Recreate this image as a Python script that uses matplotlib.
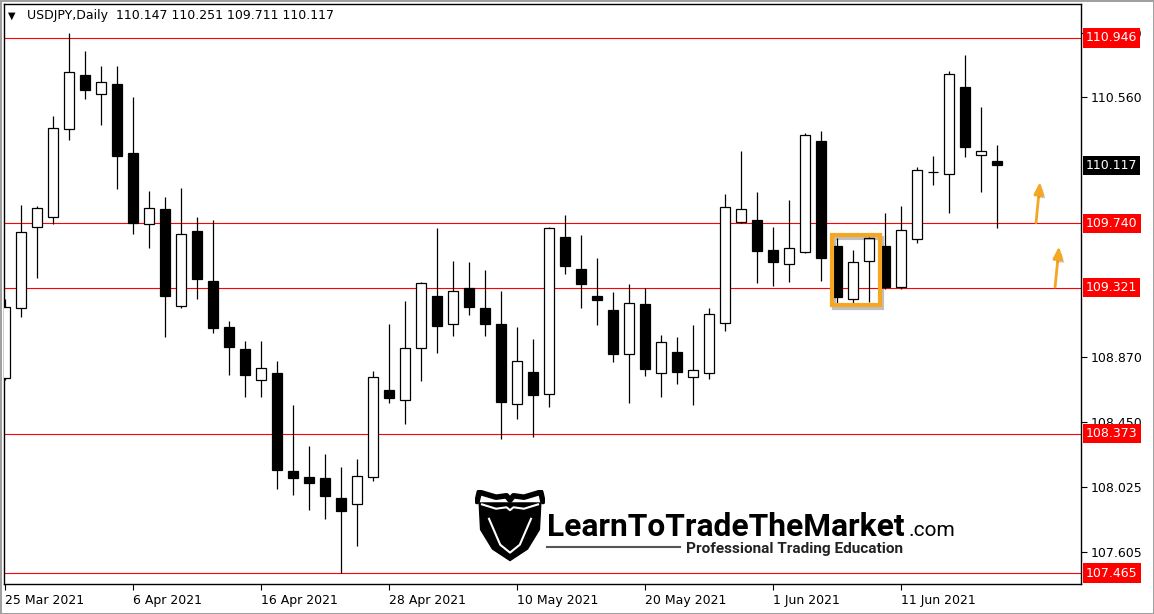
import matplotlib
matplotlib.use('Agg')
import matplotlib.pyplot as plt
import matplotlib.patheffects as pe
from matplotlib.patches import Rectangle, Polygon
import matplotlib.transforms as mtrans
import pandas as pd

# daily USDJPY bars
dates = pd.bdate_range('2021-03-25', periods=63)
opens = [108.734, 109.189, 109.716, 109.781, 110.354, 110.705, 110.581, 110.647, 110.198, 109.736,
         109.833, 109.202, 109.690, 109.365, 109.066, 108.922, 108.721, 108.766, 108.129, 108.090,
         108.083, 107.953, 107.914, 108.090, 108.656, 108.591, 108.929, 109.267, 109.085, 109.319,
         109.189, 109.085, 108.565, 108.773, 108.630, 109.651, 109.443, 109.267, 109.176, 108.890,
         109.215, 108.766, 108.903, 108.740, 108.766, 109.092, 109.749, 109.762, 109.567, 109.475,
         109.554, 110.276, 109.593, 109.248, 109.495, 109.593, 109.326, 109.638, 110.071, 110.061,
         110.627, 110.185, 110.147]
highs = [109.248, 109.859, 109.853, 110.438, 110.978, 110.861, 110.764, 110.764, 110.562, 109.950,
         109.911, 109.970, 109.781, 109.762, 109.105, 108.975, 108.975, 108.844, 108.558, 108.291,
         108.239, 108.155, 108.207, 108.779, 109.085, 109.235, 109.358, 109.710, 109.495, 109.488,
         109.436, 109.300, 109.066, 108.988, 109.716, 109.794, 109.664, 109.515, 109.293, 109.345,
         109.319, 109.014, 109.001, 109.079, 109.189, 109.931, 110.211, 109.944, 109.716, 109.892,
         110.328, 110.341, 109.645, 109.567, 109.651, 109.807, 109.853, 110.107, 110.178, 110.731,
         110.835, 110.497, 110.251]
lows = [108.721, 109.131, 109.384, 109.736, 110.282, 110.549, 110.380, 109.963, 109.671, 109.580,
        109.001, 109.189, 109.248, 109.027, 108.753, 108.610, 108.610, 108.012, 107.973, 107.875,
        107.816, 107.465, 107.641, 108.064, 108.571, 108.435, 108.714, 108.896, 109.007, 109.144,
        109.007, 108.337, 108.467, 108.350, 108.545, 109.410, 109.189, 109.079, 108.838, 108.571,
        108.747, 108.610, 108.695, 108.558, 108.727, 109.040, 109.742, 109.352, 109.332, 109.358,
        109.547, 109.365, 109.222, 109.222, 109.228, 109.313, 109.313, 109.612, 109.989, 109.807,
        110.172, 109.944, 109.711]
closes = [109.196, 109.684, 109.840, 110.360, 110.725, 110.608, 110.660, 110.178, 109.742, 109.840,
          109.267, 109.671, 109.378, 109.059, 108.935, 108.753, 108.799, 108.135, 108.083, 108.051,
          107.966, 107.868, 108.096, 108.740, 108.604, 108.929, 109.352, 109.072, 109.300, 109.196,
          109.085, 108.578, 108.844, 108.623, 109.710, 109.462, 109.345, 109.241, 108.890, 109.222,
          108.792, 108.968, 108.773, 108.786, 109.150, 109.846, 109.833, 109.560, 109.488, 109.580,
          110.315, 109.515, 109.261, 109.488, 109.645, 109.326, 109.697, 110.087, 110.074, 110.712,
          110.237, 110.211, 110.117]

levels = [110.946, 109.740, 109.321, 108.373, 107.465]
price_ticks = [110.980, 110.560, 108.870, 108.450, 108.025, 107.605]
box_bars = [52, 53, 54]          # highlighted pattern
arrow_levels = [109.740, 109.321]

ORANGE = '#F5A623'

fig = plt.figure(figsize=(11.54, 6.14), dpi=100)
fig.patch.set_facecolor('white')
fig.patch.set_edgecolor('#a0a0a0')
fig.patch.set_linewidth(2)

W, H = 1154, 614
ax = fig.add_axes([4 / W, 1 - 584 / H, 1077 / W, 580 / H])
ax.set_xlim(-0.0625, 67.25)
ax.set_ylim(107.394, 111.167)

# candles
idx = list(range(len(opens)))
ax.vlines(idx, lows, highs, color='black', linewidth=0.9, zorder=2)
bottoms = [min(o, c) for o, c in zip(opens, closes)]
heights = [abs(c - o) for o, c in zip(opens, closes)]
fills = ['white' if c >= o else 'black' for o, c in zip(opens, closes)]
ax.bar(idx, heights, bottom=bottoms, width=0.6, color=fills, edgecolor='black',
       linewidth=0.9, zorder=3)

# horizontal levels
for lv in levels:
    ax.axhline(lv, color='#ff0000', linewidth=0.8, zorder=1)

# highlight box
pad = 0.014
bx0 = box_bars[0] - 0.34
by0 = min(lows[i] for i in box_bars) - pad
by1 = max(highs[i] for i in box_bars) + pad
rect = Rectangle((bx0, by0), len(box_bars), by1 - by0, fill=False, edgecolor=ORANGE,
                 linewidth=3, zorder=5,
                 path_effects=[pe.SimpleLineShadow(offset=(2, -2), alpha=0.25), pe.Normal()])
ax.add_patch(rect)

# arrows
for j, lv in enumerate(arrow_levels):
    x0 = 64.44 + j * 1.19
    ax.annotate('', xy=(x0 + 0.25, lv + 0.27), xytext=(x0, lv + 0.005),
                arrowprops=dict(arrowstyle='-|>,head_length=0.7,head_width=0.28',
                                color=ORANGE, lw=2, mutation_scale=10, shrinkA=0, shrinkB=0,
                                path_effects=[pe.SimplePatchShadow(offset=(2, -2), alpha=0.25),
                                              pe.Normal()]),
                zorder=5)

# axes styling
for s in ax.spines.values():
    s.set_linewidth(1)
    s.set_color('black')
ax.yaxis.tick_right()
ax.set_yticks(price_ticks)
ax.set_yticklabels(['%.3f' % p for p in price_ticks])
ax.tick_params(axis='y', direction='out', length=4, width=0.8, pad=3, labelsize=9)

xt = idx[::8]
ax.set_xticks(xt)
ax.set_xticklabels([f"{dates[i].day} {dates[i]:%b %Y}" for i in xt])
for lbl in ax.get_xticklabels():
    lbl.set_horizontalalignment('left')
ax.tick_params(axis='x', direction='out', length=4, width=0.8, pad=3, labelsize=9)

# price boxes on the right scale
blend = mtrans.blended_transform_factory(ax.transAxes, ax.transData)
for lv in levels:
    ax.annotate('%.3f' % lv, xy=(1, lv), xycoords=blend, xytext=(3.5, 0),
                textcoords='offset points', ha='left', va='center', fontsize=9, color='white',
                bbox=dict(boxstyle='square,pad=0.25', facecolor='#ff0000', edgecolor='none'),
                annotation_clip=False, zorder=6)
ax.annotate('%.3f' % closes[-1], xy=(1, closes[-1]), xycoords=blend, xytext=(3.5, 0),
            textcoords='offset points', ha='left', va='center', fontsize=9, color='white',
            bbox=dict(boxstyle='square,pad=0.25', facecolor='black', edgecolor='none'),
            annotation_clip=False, zorder=6)

# header
fig.text(8 / W, 1 - 16 / H, '\u25BC', fontsize=7, va='center', ha='left')
header = 'USDJPY,Daily  %.3f %.3f %.3f %.3f' % (opens[-1], highs[-1], lows[-1], closes[-1])
fig.text(27 / W, 1 - 16 / H, header, fontsize=9, va='center', ha='left')

# watermark logo
lax = fig.add_axes([475 / W, 1 - 562 / H, 70 / W, 72 / H])
lax.set_xlim(0, 1)
lax.set_ylim(0, 1)
lax.axis('off')
lax.add_patch(Polygon([(0.06, 0.82), (0.94, 0.82), (0.92, 0.45), (0.75, 0.18), (0.5, 0.02),
                       (0.25, 0.18), (0.08, 0.45)], closed=True, color='black'))
lax.plot([0.03, 0.06, 0.3, 0.45, 0.5, 0.55, 0.7, 0.94, 0.97],
         [0.84, 0.97, 0.9, 0.92, 0.86, 0.92, 0.9, 0.97, 0.84], color='black', lw=4,
         solid_capstyle='round')
lax.plot([0.1, 0.3, 0.45, 0.5, 0.55, 0.7, 0.9], [0.80, 0.74, 0.76, 0.72, 0.76, 0.74, 0.80],
         color='white', lw=1.5)
lax.plot([0.2, 0.36, 0.5, 0.64, 0.8], [0.6, 0.24, 0.13, 0.24, 0.6], color='white', lw=1.5)

brand = fig.text(547 / W, 1 - 536 / H, 'LearnToTradeTheMarket', fontsize=24, weight='bold',
                 family=['Liberation Sans Narrow', 'Roboto'], ha='left', va='baseline',
                 color='black')
dotcom = fig.text(908 / W, 1 - 536 / H, '.com', fontsize=14, family=['Roboto'], ha='left',
                  va='baseline', color='black')
tagline = fig.text(686 / W, 1 - 553 / H, 'Professional Trading Education', fontsize=10,
                   family=['Roboto'], weight='bold', ha='left', va='baseline', color='#222222')
fig.add_artist(plt.Line2D([547 / W, 680 / W], [1 - 547 / H, 1 - 547 / H], color='#555555',
                          lw=1.5, transform=fig.transFigure))

fig.canvas.draw()
r = fig.canvas.get_renderer()
for t, target in [(brand, 358), (dotcom, 47), (tagline, 219)]:
    w = t.get_window_extent(r).width
    t.set_fontsize(t.get_fontsize() * target / w)

fig.savefig('out.png', dpi=100, facecolor='white')
